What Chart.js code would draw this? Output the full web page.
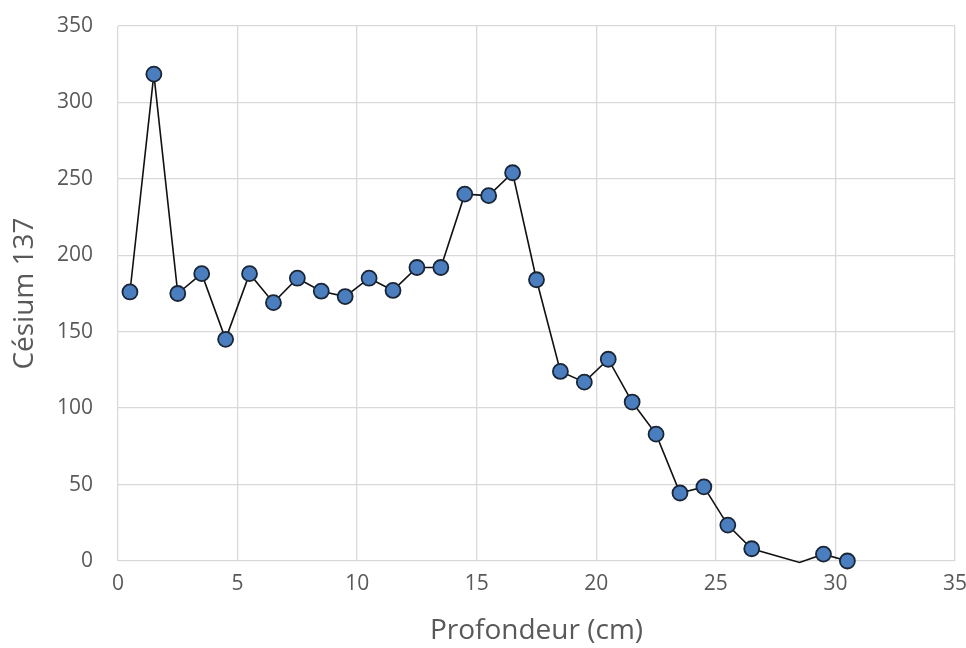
<!DOCTYPE html>
<html><head><meta charset="utf-8">
<script src="https://cdn.jsdelivr.net/npm/chart.js@4"></script>
<style>html,body{margin:0;padding:0;background:#fff;}#wrap{width:966px;height:648px;}</style>
</head><body><div id="wrap"><canvas id="c" width="966" height="648"></canvas></div>
<script>
const depths = [0.5,1.5,2.5,3.5,4.5,5.5,6.5,7.5,8.5,9.5,10.5,11.5,12.5,13.5,14.5,15.5,16.5,17.5,18.5,19.5,20.5,21.5,22.5,23.5,24.5,25.5,26.5,28.5,29.5,30.5];
const cesium = [176,318.5,175,188,145,188,169,185,176.5,173,185,177,192,192,240,239,254,184,124,117,132,104,83,44.5,48.5,23.5,8,-1,4.5,0];
const hiddenMarkers = [28.5];
const xTicks = [0,5,10,15,20,25,30,35];
const yTicks = [0,50,100,150,200,250,300,350];

const pts = depths.map((d,i)=>({x:d,y:cesium[i]}));
const font = "'Open Sans', sans-serif";
new Chart(document.getElementById('c'), {
  type:'scatter',
  data:{datasets:[{
    data:pts, showLine:true, borderColor:'#111', borderWidth:1.6,
    pointBackgroundColor:'#4a7ebf', pointBorderColor:'#1a2535', pointBorderWidth:1.8,
    pointRadius:(ctx)=>hiddenMarkers.includes(depths[ctx.dataIndex])?0:7.5,
    pointHoverRadius:7.5, clip:false
  }]},
  options:{
    responsive:false, animation:false,
    layout:{padding:{left:0,right:11,top:26,bottom:0}},
    plugins:{legend:{display:false},tooltip:{enabled:false}},
    scales:{
      x:{type:'linear',min:0,max:35,
        afterBuildTicks:(s)=>{s.ticks=xTicks.map(v=>({value:v}));},
        afterFit:(s)=>{s.height=87;s.paddingLeft=0;s.paddingRight=0;},
        grid:{color:'#d9d9d9',lineWidth:1.3,drawTicks:false},
        border:{display:false},
        ticks:{color:'#595959',font:{family:font,size:21},padding:10,maxRotation:0},
        title:{display:true,text:'Profondeur (cm)',color:'#595959',font:{family:font,size:28},padding:{top:0,bottom:0}}
      },
      y:{type:'linear',min:0,max:350,
        afterBuildTicks:(s)=>{s.ticks=yTicks.map(v=>({value:v}));},
        afterFit:(s)=>{s.width=118;s.paddingTop=0;s.paddingBottom=0;},
        grid:{color:'#d9d9d9',lineWidth:1.3,drawTicks:false},
        border:{display:false},
        ticks:{color:'#595959',font:{family:font,size:21},padding:25},
        title:{display:true,text:'Césium 137',color:'#595959',font:{family:font,size:28},padding:{top:8,bottom:0}}
      }
    }
  }
});
</script></body></html>
